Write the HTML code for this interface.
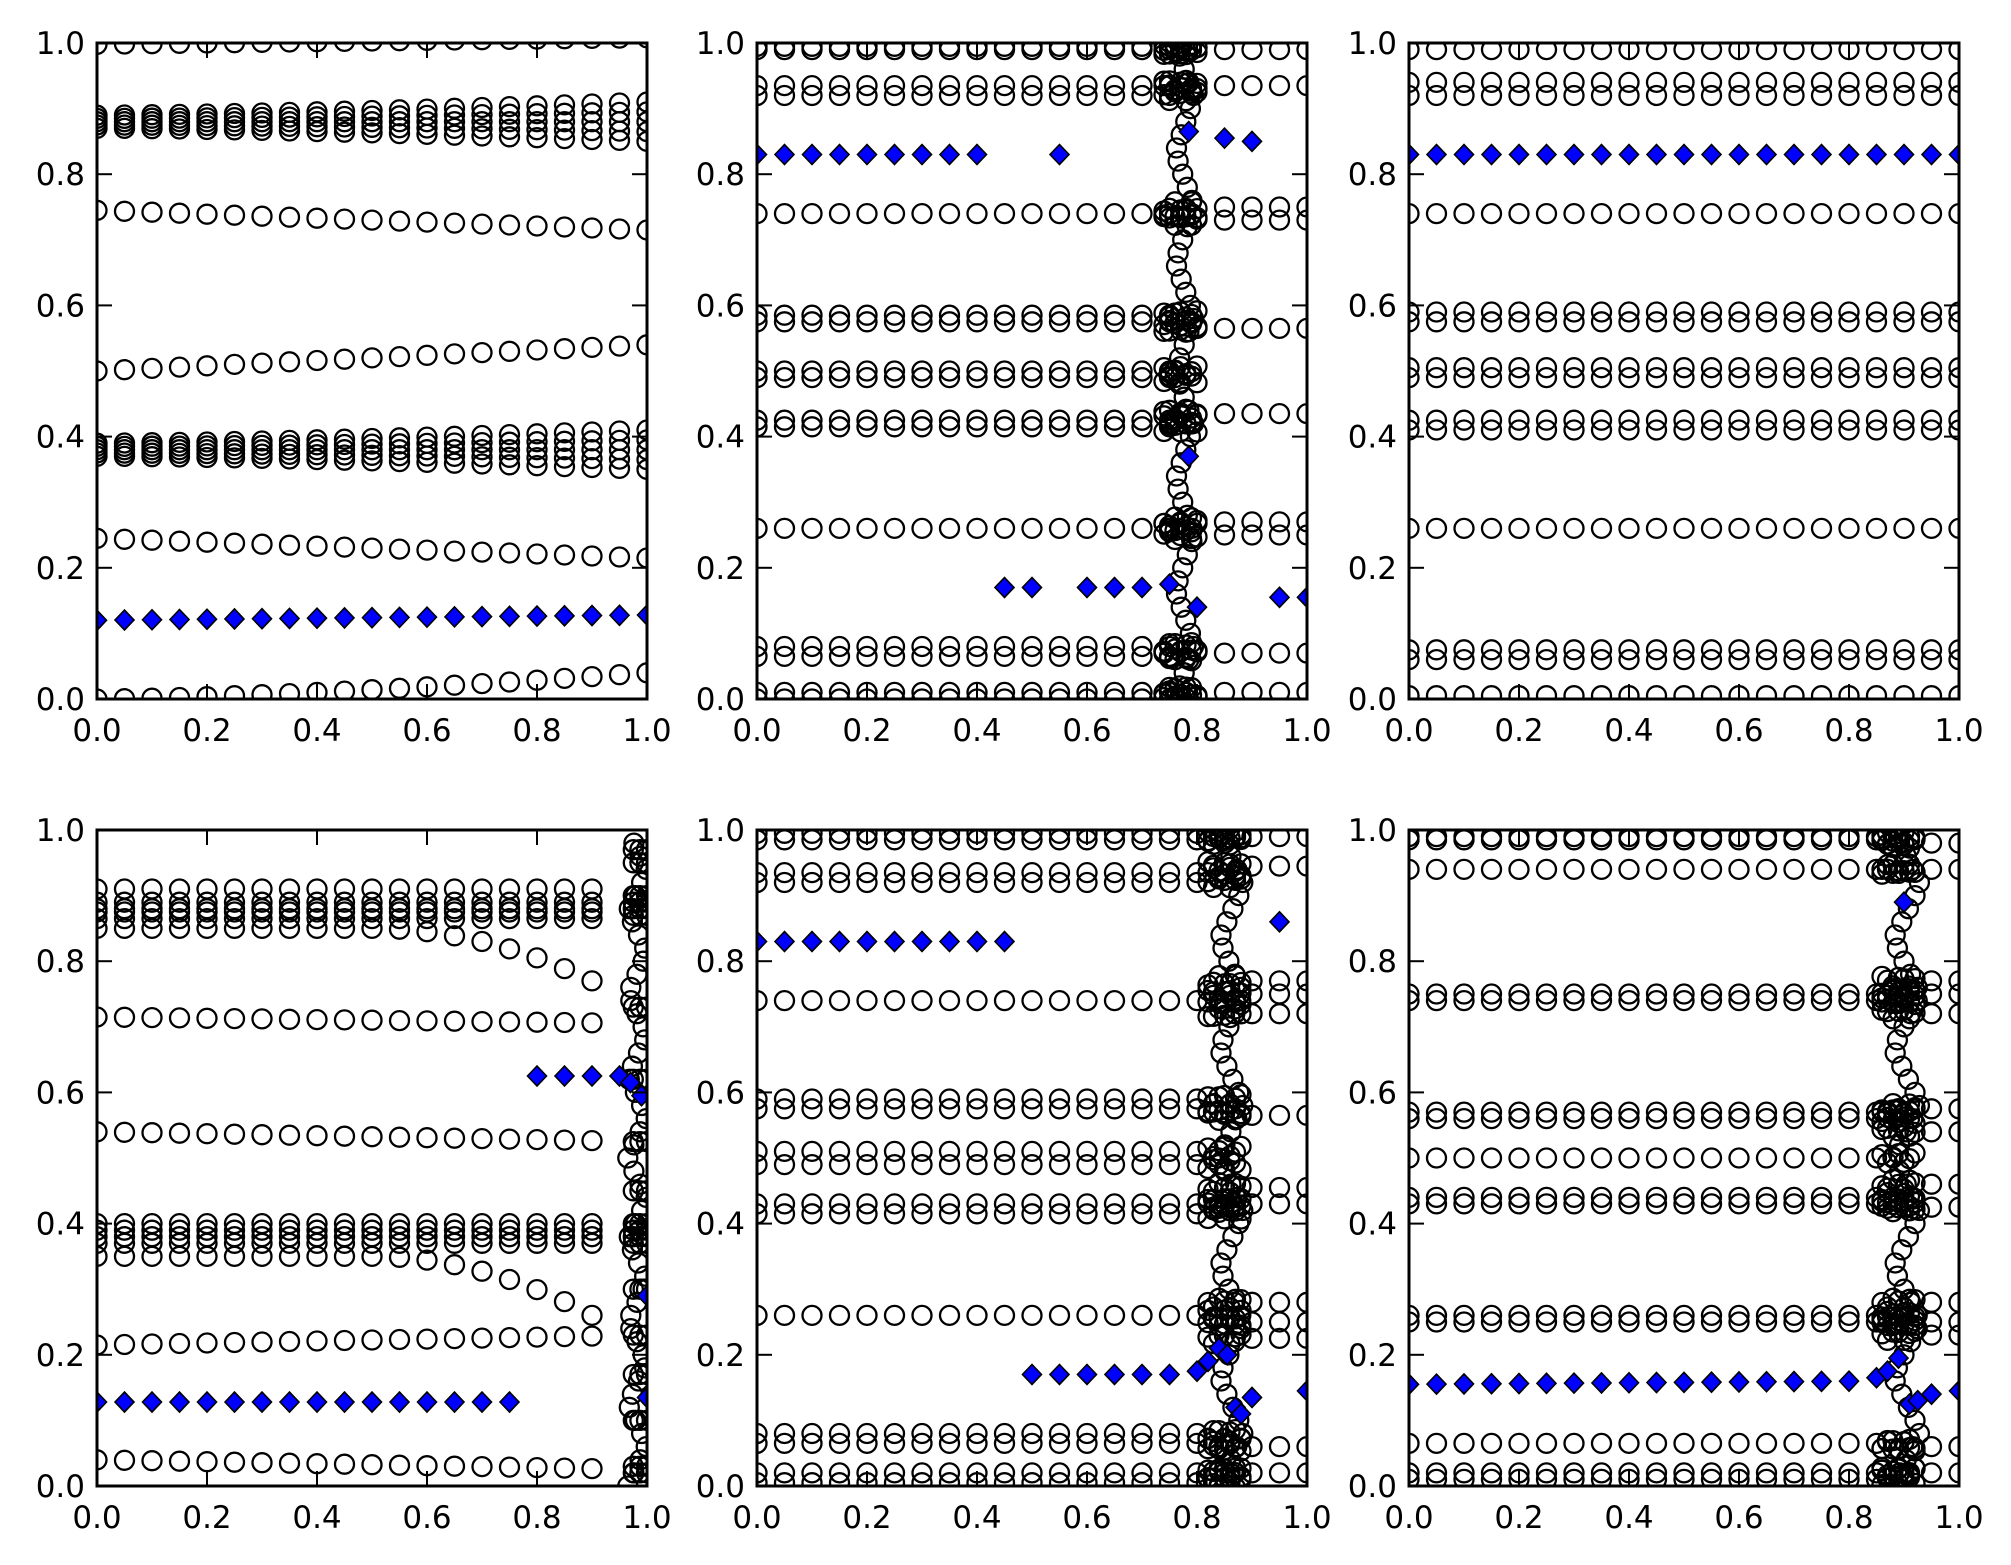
<!DOCTYPE html>
<html><head><meta charset="utf-8"><style>
html,body{margin:0;padding:0;background:#fff;width:2011px;height:1565px;overflow:hidden}
svg text{font-family:"DejaVu Sans","Liberation Sans",sans-serif;font-size:31px;fill:#000}
</style></head><body>
<svg id="s" width="2011" height="1565" xmlns="http://www.w3.org/2000/svg"></svg>
<script>
const S=document.getElementById('s');
const W=550,H=656;
const axes=[[97,43],[757,43],[1409,43],[97,830],[757,830],[1409,830]];
let out='';
const xs=[];for(let i=0;i<=20;i++)xs.push(i*0.05);
const tri=t=>{t=t-Math.floor(t);return t<0.5?2*t:2-2*t;};
function plot(idx,spec){
 const [L,T]=axes[idx];
 const P=(x,y)=>[L+x*W,T+(1-y)*H];
 let g=`<clipPath id="c${idx}"><rect x="${L}" y="${T}" width="${W}" height="${H}"/></clipPath><g clip-path="url(#c${idx})">`;
 const circ=(x,y)=>{const[a,b]=P(x,y);g+=`<circle cx="${a.toFixed(1)}" cy="${b.toFixed(1)}" r="9.5" fill="none" stroke="#000" stroke-width="2.3"/>`;};
 const dia=(x,y)=>{const[a,b]=P(x,y);g+=`<path d="M${a-9.5},${b}L${a},${b-10}L${a+9.5},${b}L${a},${b+10}Z" fill="#0000ff" stroke="#000" stroke-width="1.6"/>`;};
 spec(circ,dia);
 g+='</g>';
 g+=`<rect x="${L}" y="${T}" width="${W}" height="${H}" fill="none" stroke="#000" stroke-width="3"/>`;
 for(let i=0;i<=5;i++){const v=i*0.2;const x=L+v*W,y=T+(1-v)*H;
  g+=`<line x1="${x}" y1="${T+H}" x2="${x}" y2="${T+H-15}" stroke="#000" stroke-width="2"/><line x1="${x}" y1="${T}" x2="${x}" y2="${T+15}" stroke="#000" stroke-width="2"/>`;
  g+=`<line x1="${L}" y1="${y}" x2="${L+15}" y2="${y}" stroke="#000" stroke-width="2"/><line x1="${L+W}" y1="${y}" x2="${L+W-15}" y2="${y}" stroke="#000" stroke-width="2"/>`;
  g+=`<text x="${x}" y="${T+H+42}" text-anchor="middle">${v.toFixed(1)}</text>`;
  g+=`<text x="${L-12}" y="${y+11}" text-anchor="end">${v.toFixed(1)}</text>`;}
 out+=g;
}
function trans(circ,rows,after,xt,amp,xend,per){
 for(const x of xs){ if(x<=xt-0.02) rows.forEach(v=>circ(x,v)); else if(x>=xend) after.forEach(v=>circ(x,v)); }
 const all=rows.concat(after);
 for(let dx=-0.03;dx<=0.035;dx+=0.01){all.forEach((v,i)=>circ(xt+dx,v+0.008*Math.sin(i*3+dx*200)));}
 for(let y=0;y<=1;y+=0.02){circ(xt-0.01+amp*tri(y*per),y);}
}
plot(0,(c,d)=>{for(const x of xs){
 c(x,0.998+0.01*x);
 for(let k=-2;k<=2;k++){c(x,0.88+k*(0.005+0.01*Math.pow(x,1.5)));c(x,0.38+k*(0.005+0.01*Math.pow(x,1.5)));}
 c(x,0.745-0.03*x);c(x,0.50+0.04*x);c(x,0.245-0.03*x);c(x,0.04*Math.pow(x,1.5));d(x,0.12+0.008*x);}});
plot(1,(c,d)=>{
 trans(c,[0.995,0.99,0.935,0.92,0.74,0.585,0.575,0.50,0.49,0.425,0.415,0.26,0.08,0.065,0.01,0.0],[0.99,0.935,0.75,0.73,0.565,0.435,0.27,0.25,0.07,0.01],0.77,0.035,0.85,6);
 [0,.05,.1,.15,.2,.25,.3,.35,.4,.55].forEach(x=>d(x,0.83));
 [.45,.5,.6,.65,.7].forEach(x=>d(x,0.17));d(0.75,0.175);
 d(0.785,0.865);d(0.85,0.855);d(0.9,0.85);d(0.785,0.37);d(0.8,0.14);d(0.95,0.155);d(1.0,0.155);});
plot(2,(c,d)=>{for(const x of xs){[0.99,0.94,0.92,0.74,0.59,0.575,0.505,0.49,0.425,0.41,0.26,0.075,0.06,0.005].forEach(v=>c(x,v));d(x,0.83);}});
plot(3,(c,d)=>{for(const x of xs){ if(x>0.95)continue;
 [0.91,0.89,0.88,0.875,0.865,0.40,0.39,0.38,0.37].forEach(v=>c(x,v));
 const b=Math.max(0,(x-0.5)/0.4);c(x,0.85-0.08*b*b);c(x,0.35-0.09*b*b);
 c(x,0.715-0.01*x);c(x,0.54-0.015*x);c(x,0.215+0.015*x);c(x,0.04-0.015*x);}
 const r=[0.97,0.95,0.9,0.89,0.88,0.87,0.73,0.62,0.525,0.45,0.4,0.39,0.38,0.37,0.3,0.23,0.17,0.1,0.03,0.02];
 for(let x=0.975;x<=1.01;x+=0.012)r.forEach(v=>c(x,v));
 for(let y=0;y<=1;y+=0.02)c(0.965+0.035*tri(y*8),y);
 for(let x=0;x<=0.76;x+=0.05)d(x,0.128);
 [.8,.85,.9,.95].forEach(x=>d(x,0.625));d(0.97,0.615);d(0.99,0.595);d(1.0,0.29);d(1.0,0.135);});
plot(4,(c,d)=>{
 trans(c,[0.995,0.985,0.935,0.92,0.74,0.59,0.575,0.51,0.49,0.43,0.415,0.26,0.08,0.065,0.02,0.005],[0.99,0.945,0.77,0.75,0.72,0.565,0.455,0.43,0.28,0.25,0.225,0.06,0.02],0.85,0.045,0.9,6);
 for(let x=0;x<=0.46;x+=0.05)d(x,0.83);
 [.5,.55,.6,.65,.7,.75].forEach(x=>d(x,0.17));
 d(0.8,0.175);d(0.82,0.19);d(0.84,0.21);d(0.855,0.2);d(0.87,0.12);d(0.88,0.11);d(0.9,0.135);d(0.95,0.86);d(1.0,0.145);});
plot(5,(c,d)=>{
 trans(c,[0.99,0.985,0.94,0.75,0.74,0.57,0.56,0.50,0.44,0.43,0.26,0.25,0.065,0.02,0.01],[0.98,0.94,0.77,0.75,0.72,0.575,0.54,0.46,0.425,0.28,0.25,0.23,0.06,0.02],0.89,0.05,0.95,6);
 for(let x=0;x<=0.81;x+=0.05)d(x,0.155+0.006*x);
 d(0.85,0.165);d(0.87,0.175);d(0.89,0.195);d(0.9,0.89);d(0.91,0.125);d(0.925,0.13);d(0.95,0.14);d(1.0,0.145);});
S.innerHTML=out;
</script>
</body></html>
